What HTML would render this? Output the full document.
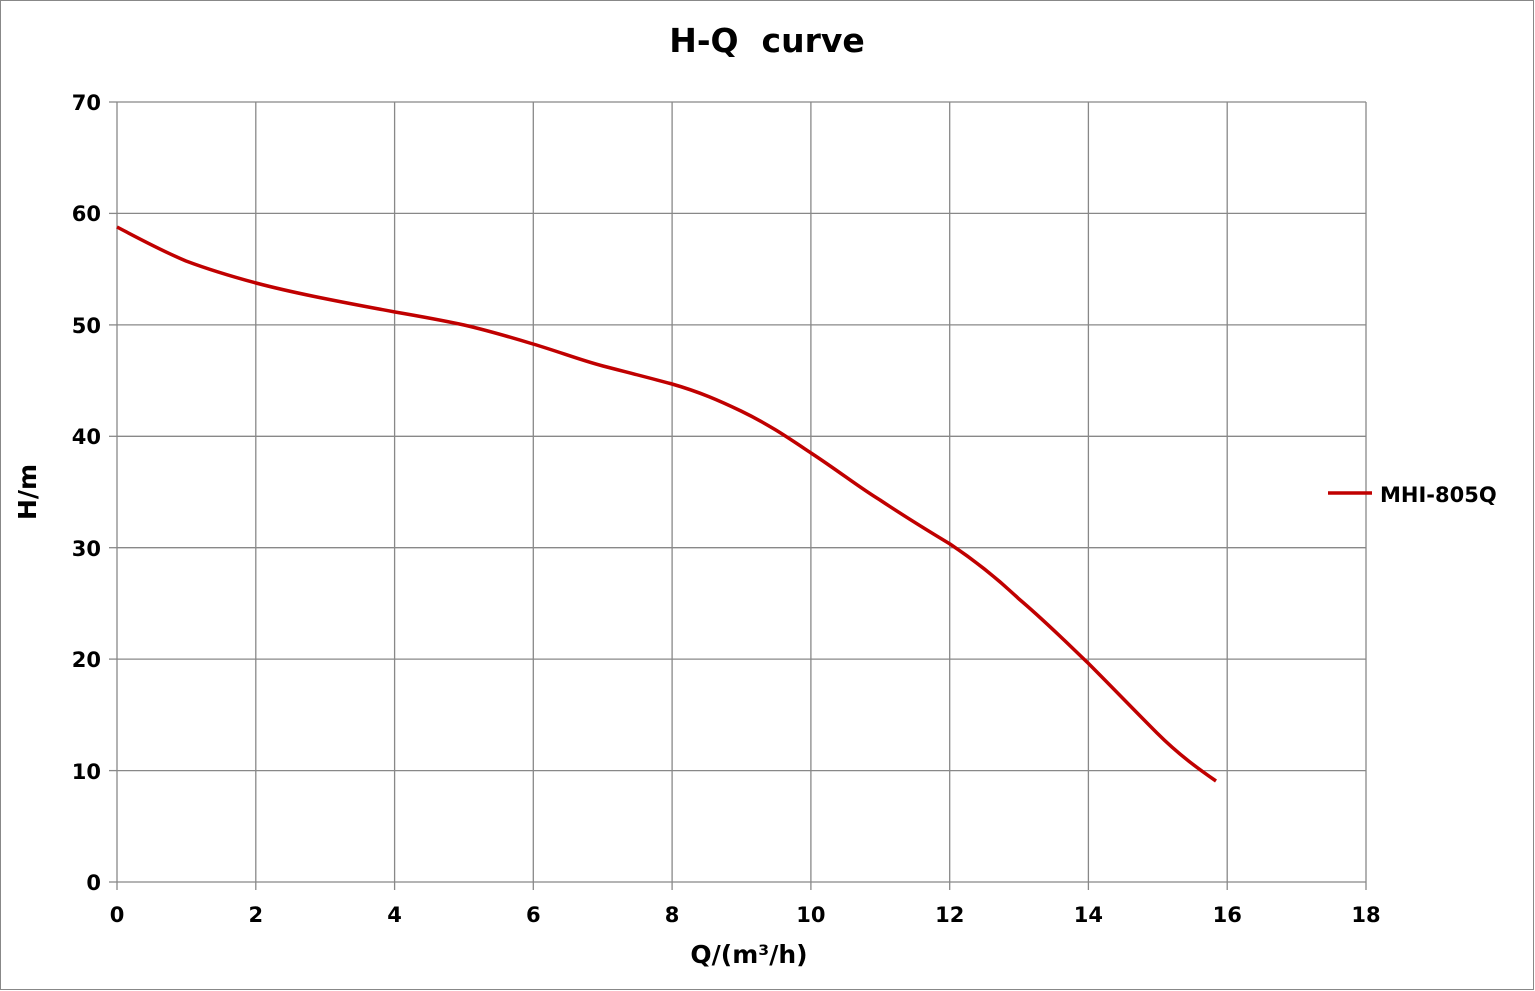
<!DOCTYPE html>
<html><head><meta charset="utf-8"><style>
html,body{margin:0;padding:0;background:#fff}
svg{display:block}
text{font-family:"DejaVu Sans","Liberation Sans",sans-serif;font-weight:bold;fill:#000}
</style></head><body>
<svg width="1535" height="991" viewBox="0 0 1535 991" xmlns="http://www.w3.org/2000/svg">
<rect x="0.5" y="0.5" width="1533" height="989" fill="#fff" stroke="#888" stroke-width="1"/>
<text x="767" y="52" font-size="33" text-anchor="middle">H-Q&#160; curve</text>
<g stroke="#888" stroke-width="1.3">
<line x1="117" y1="102" x2="1366" y2="102"/>
<line x1="117" y1="213.4" x2="1366" y2="213.4"/>
<line x1="117" y1="324.9" x2="1366" y2="324.9"/>
<line x1="117" y1="436.3" x2="1366" y2="436.3"/>
<line x1="117" y1="547.7" x2="1366" y2="547.7"/>
<line x1="117" y1="659.1" x2="1366" y2="659.1"/>
<line x1="117" y1="770.6" x2="1366" y2="770.6"/>
<line x1="117" y1="882" x2="1366" y2="882"/>
<line x1="117" y1="102" x2="117" y2="882"/>
<line x1="255.8" y1="102" x2="255.8" y2="882"/>
<line x1="394.6" y1="102" x2="394.6" y2="882"/>
<line x1="533.3" y1="102" x2="533.3" y2="882"/>
<line x1="672.1" y1="102" x2="672.1" y2="882"/>
<line x1="810.9" y1="102" x2="810.9" y2="882"/>
<line x1="949.7" y1="102" x2="949.7" y2="882"/>
<line x1="1088.4" y1="102" x2="1088.4" y2="882"/>
<line x1="1227.2" y1="102" x2="1227.2" y2="882"/>
<line x1="1366" y1="102" x2="1366" y2="882"/>
<line x1="109" y1="102" x2="117" y2="102"/><line x1="109" y1="213.4" x2="117" y2="213.4"/><line x1="109" y1="324.9" x2="117" y2="324.9"/><line x1="109" y1="436.3" x2="117" y2="436.3"/><line x1="109" y1="547.7" x2="117" y2="547.7"/><line x1="109" y1="659.1" x2="117" y2="659.1"/><line x1="109" y1="770.6" x2="117" y2="770.6"/><line x1="109" y1="882" x2="117" y2="882"/>
<line x1="117" y1="882" x2="117" y2="890"/><line x1="255.8" y1="882" x2="255.8" y2="890"/><line x1="394.6" y1="882" x2="394.6" y2="890"/><line x1="533.3" y1="882" x2="533.3" y2="890"/><line x1="672.1" y1="882" x2="672.1" y2="890"/><line x1="810.9" y1="882" x2="810.9" y2="890"/><line x1="949.7" y1="882" x2="949.7" y2="890"/><line x1="1088.4" y1="882" x2="1088.4" y2="890"/><line x1="1227.2" y1="882" x2="1227.2" y2="890"/><line x1="1366" y1="882" x2="1366" y2="890"/>
</g>
<g font-size="21" text-anchor="end">
<text x="101" y="110">70</text><text x="101" y="221">60</text><text x="101" y="333">50</text><text x="101" y="444">40</text><text x="101" y="556">30</text><text x="101" y="667">20</text><text x="101" y="779">10</text><text x="101" y="890">0</text>
</g>
<g font-size="21" text-anchor="middle">
<text x="117" y="922">0</text><text x="255.8" y="922">2</text><text x="394.6" y="922">4</text><text x="533.3" y="922">6</text><text x="672.1" y="922">8</text><text x="810.9" y="922">10</text><text x="949.7" y="922">12</text><text x="1088.4" y="922">14</text><text x="1227.2" y="922">16</text><text x="1366" y="922">18</text>
</g>
<text x="749" y="963" font-size="25" text-anchor="middle">Q/(m³/h)</text>
<text transform="translate(36,492) rotate(-90)" font-size="25" text-anchor="middle">H/m</text>
<path fill="none" stroke="#c00000" stroke-width="3.5" stroke-linejoin="round"
d="M117,227 C140,239 160,250 186,261 C210,270 230,276 256,283 C290,292 330,300 395,312 C430,318 450,322 464,325 C490,331 510,337 533,344 C560,352 580,360 603,366 C630,373 650,378 672,384 C700,392 720,401 741,411 C770,425 790,439 811,453 C840,472 860,488 880,500 C910,520 930,532 950,544 C980,564 1000,581 1019,599 C1045,621 1065,641 1088,663 C1110,685 1135,711 1157,733 C1179,755 1200,770 1216,781"/>
<line x1="1328" y1="493" x2="1372" y2="493" stroke="#c00000" stroke-width="3.5"/>
<text x="1380" y="502" font-size="21">MHI-805Q</text>
</svg>
</body></html>
